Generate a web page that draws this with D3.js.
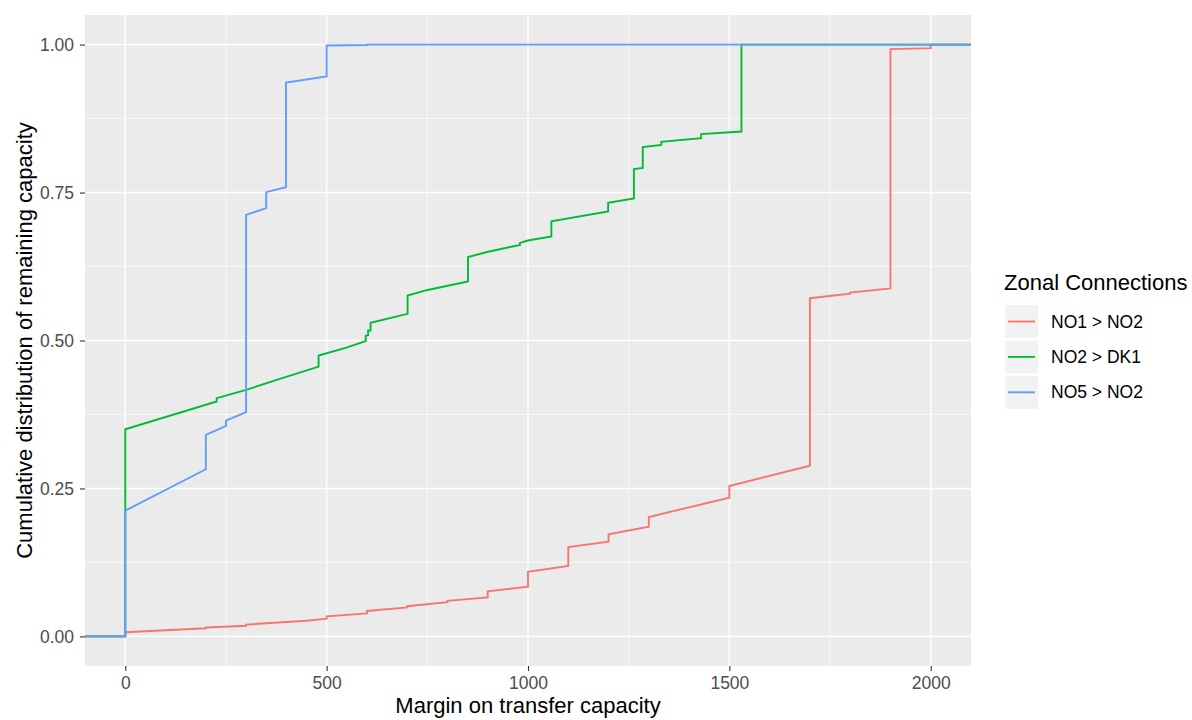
<!DOCTYPE html>
<html>
<head>
<meta charset="utf-8">
<script src="https://cdn.jsdelivr.net/npm/d3@7"></script>
<style>
  body { margin: 0; background: #fff; }
  text { font-family: "Liberation Sans", Arial, Helvetica, sans-serif; }
</style>
</head>
<body>
<svg id="chart" width="1192" height="720"></svg>
<script>
// series, in draw order (last one on top)
const seriesNames = ["NO1 > NO2", "NO2 > DK1", "NO5 > NO2"]
const seriesColors = ["#F8766D", "#00BA38", "#619CFF"]

// [margin, cumulative share]; repeated x = a jump
const no1no2 = [[-100, 0], [0, 0], [0, 0.007], [200, 0.0137], [200, 0.015], [300, 0.018], [300, 0.020],
  [450, 0.0265], [500, 0.030], [500, 0.034], [600, 0.039], [600, 0.043], [700, 0.049], [700, 0.051],
  [800, 0.058], [800, 0.060], [900, 0.066], [900, 0.076], [1000, 0.084], [1000, 0.109], [1100, 0.119],
  [1100, 0.151], [1200, 0.160], [1200, 0.1726], [1300, 0.1854], [1300, 0.2018], [1500, 0.2345],
  [1500, 0.254], [1700, 0.2885], [1700, 0.5715], [1800, 0.579], [1800, 0.581], [1900, 0.588],
  [1900, 0.9924], [2000, 0.994], [2000, 1], [2100, 1]]
const no2dk1 = [[-100, 0], [0, 0], [0, 0.350], [227, 0.397], [227, 0.4025], [300, 0.4165], [376, 0.4334],
  [480, 0.456], [480, 0.4745], [545, 0.487], [597, 0.499], [597, 0.508], [603, 0.509], [603, 0.517],
  [609, 0.517], [609, 0.530], [701, 0.545], [701, 0.576], [748, 0.585], [851, 0.5996], [851, 0.641],
  [901, 0.650], [980, 0.6616], [980, 0.665], [1000, 0.669], [1058, 0.6757], [1058, 0.7016],
  [1199, 0.718], [1199, 0.7326], [1263, 0.740], [1263, 0.7895], [1285, 0.7917], [1285, 0.8267],
  [1331, 0.8306], [1331, 0.8357], [1430, 0.842], [1430, 0.8487], [1530, 0.8531], [1530, 1], [2100, 1]]
const no5no2 = [[-100, 0], [0, 0], [0, 0.2125], [200, 0.2825], [200, 0.3404], [250, 0.3556], [250, 0.3646],
  [300, 0.3788], [300, 0.7123], [350, 0.7236], [350, 0.7507], [399, 0.7591], [399, 0.936], [500, 0.946],
  [500, 0.9985], [600, 0.9992], [600, 1], [2100, 1]]
const seriesData = [no1no2, no2dk1, no5no2]

const xTicks = [0, 500, 1000, 1500, 2000]
const xMinor = [250, 750, 1250, 1750]
const yTicks = [0, 0.25, 0.5, 0.75, 1]
const yMinor = [0.125, 0.375, 0.625, 0.875]

const panel = {left: 85, right: 971, top: 15, bottom: 666}
const svg = d3.select("#chart")

const x = d3.scaleLinear().domain([-100, 2100]).range([panel.left, panel.right])
const y = d3.scaleLinear().domain([-0.05, 1.05]).range([panel.bottom, panel.top])

// panel background
svg.append("rect")
  .attr("x", panel.left).attr("y", panel.top)
  .attr("width", panel.right - panel.left).attr("height", panel.bottom - panel.top)
  .attr("fill", "#EBEBEB")

// grid, minor first
const grid = svg.append("g").attr("stroke", "#fff")
grid.selectAll(".xminor").data(xMinor).join("line")
  .attr("x1", d => x(d)).attr("x2", d => x(d)).attr("y1", panel.top).attr("y2", panel.bottom)
  .attr("stroke-width", 0.7)
grid.selectAll(".yminor").data(yMinor).join("line")
  .attr("y1", d => y(d)).attr("y2", d => y(d)).attr("x1", panel.left).attr("x2", panel.right)
  .attr("stroke-width", 0.7)
grid.selectAll(".xmajor").data(xTicks).join("line")
  .attr("x1", d => x(d)).attr("x2", d => x(d)).attr("y1", panel.top).attr("y2", panel.bottom)
  .attr("stroke-width", 1.4)
grid.selectAll(".ymajor").data(yTicks).join("line")
  .attr("y1", d => y(d)).attr("y2", d => y(d)).attr("x1", panel.left).attr("x2", panel.right)
  .attr("stroke-width", 1.4)

// step lines
const line = d3.line().x(d => x(d[0])).y(d => y(d[1]))
svg.append("g").selectAll("path").data(seriesData).join("path")
  .attr("d", line)
  .attr("fill", "none")
  .attr("stroke", (d, i) => seriesColors[i])
  .attr("stroke-width", 1.9)
  .attr("stroke-linejoin", "miter")

// axes
const xAxis = svg.append("g")
  .attr("transform", `translate(0,${panel.bottom})`)
  .call(d3.axisBottom(x).tickValues(xTicks).tickFormat(d3.format("d")).tickSize(5).tickPadding(5.5))
const yAxis = svg.append("g")
  .attr("transform", `translate(${panel.left},0)`)
  .call(d3.axisLeft(y).tickValues(yTicks).tickFormat(d3.format(".2f")).tickSize(5).tickPadding(6))
for (const ax of [xAxis, yAxis]) {
  ax.select(".domain").remove()
  ax.selectAll(".tick line").attr("stroke", "#333333").attr("stroke-width", 1.1)
  ax.selectAll(".tick text").attr("fill", "#4D4D4D").style("font-size", "17.5px")
    .style("font-family", "'Liberation Sans', Arial, sans-serif")
}

// axis titles
svg.append("text")
  .attr("x", (panel.left + panel.right) / 2).attr("y", 713)
  .attr("text-anchor", "middle").style("font-size", "22px").attr("fill", "#000")
  .text("Margin on transfer capacity")
svg.append("text")
  .attr("transform", `translate(32,${(panel.top + panel.bottom) / 2}) rotate(-90)`)
  .attr("text-anchor", "middle").style("font-size", "22px").attr("fill", "#000")
  .text("Cumulative distribution of remaining capacity")

// legend
const legend = svg.append("g").attr("transform", "translate(1005,0)")
legend.append("text")
  .attr("x", -1).attr("y", 290)
  .style("font-size", "22px").attr("fill", "#000")
  .text("Zonal Connections")
const keys = legend.selectAll(".key").data(seriesNames).join("g")
  .attr("transform", (d, i) => `translate(0,${305 + i * 35.4})`)
keys.append("rect").attr("width", 33).attr("height", 33).attr("fill", "#F2F2F2")
keys.append("line")
  .attr("x1", 3).attr("x2", 30).attr("y1", 16.5).attr("y2", 16.5)
  .attr("stroke", (d, i) => seriesColors[i]).attr("stroke-width", 1.9)
keys.append("text")
  .attr("x", 46).attr("y", 16.5).attr("dy", "0.35em")
  .style("font-size", "17.5px").attr("fill", "#000")
  .text(d => d)
</script>
</body>
</html>
